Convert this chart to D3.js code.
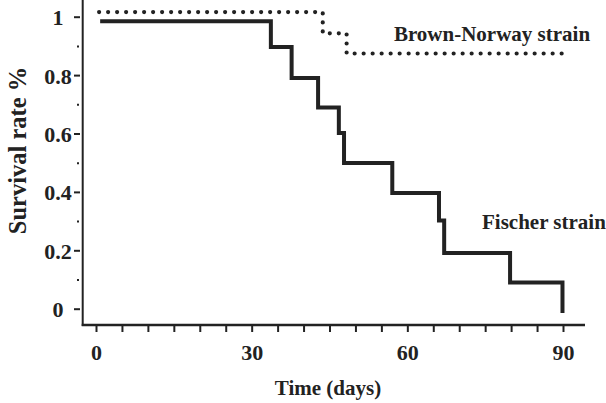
<!DOCTYPE html>
<html>
<head>
<meta charset="utf-8">
<script src="https://cdn.jsdelivr.net/npm/d3@7"></script>
<style>
  body { margin: 0; background: #fff; }
  svg { display: block; }
  text { font-family: "Liberation Serif", "Times New Roman", serif; font-weight: bold; fill: #222; }
</style>
</head>
<body>
<svg id="chart" width="606" height="403"></svg>
<script>
// Fischer strain (solid step line)
const fischerDays = [0.8, 33.7, 37.7, 42.8, 46.8, 47.8, 57.1, 66.1, 67.1, 79.8, 89.9];
const fischerSurv = [0.984, 0.896, 0.79, 0.689, 0.602, 0.499, 0.396, 0.302, 0.191, 0.09, -0.015];

// Brown-Norway strain (dotted step line)
const bnDays = [0.6, 43.7, 48.3, 91];
const bnSurv = [1.016, 0.943, 0.874, 0.874];

const yMajor = [0, 0.2, 0.4, 0.6, 0.8, 1];
const yMajorLabels = ["0", "0.2", "0.4", "0.6", "0.8", "1"];
const yMinor = [0.1, 0.3, 0.5, 0.7, 0.9];
const xTicks = [0, 5, 10, 15, 20, 25, 30, 35, 40, 45, 50, 55, 60, 65, 70, 75, 80, 85, 90];
const xLabels = [0, 30, 60, 90];

const svg = d3.select('#chart');
const ink = '#222';

const x = d3.scaleLinear().domain([0, 90]).range([96, 563]);
const y = d3.scaleLinear().domain([0, 1]).range([308.7, 16.7]);

const axisX0 = 82.7;   // y-axis line position
const axisY0 = 325;    // x-axis line position

// axis lines
svg.append('line')
  .attr('x1', axisX0).attr('x2', axisX0)
  .attr('y1', 0).attr('y2', axisY0 + 1)
  .attr('stroke', ink).attr('stroke-width', 2);
svg.append('line')
  .attr('x1', axisX0 - 1).attr('x2', 585)
  .attr('y1', axisY0).attr('y2', axisY0)
  .attr('stroke', ink).attr('stroke-width', 2.5);

// y ticks (major, with labels)
const yAxisMajor = svg.append('g')
  .attr('transform', 'translate(80,0)')
  .call(d3.axisLeft(y).tickValues(yMajor).tickSize(6).tickPadding(0)
    .tickFormat((d, i) => yMajorLabels[i]));
yAxisMajor.select('.domain').remove();
yAxisMajor.selectAll('line').attr('stroke', ink).attr('stroke-width', 2);
yAxisMajor.selectAll('text')
  .attr('x', -22).attr('text-anchor', 'middle')
  .attr('dy', '0.36em')
  .style('font-size', '22px');

// y minor ticks
const yAxisMinor = svg.append('g')
  .attr('transform', 'translate(79,0)')
  .call(d3.axisLeft(y).tickValues(yMinor).tickSize(2).tickFormat(''));
yAxisMinor.select('.domain').remove();
yAxisMinor.selectAll('line').attr('stroke', ink).attr('stroke-width', 2);

// x ticks
const xAxis = svg.append('g')
  .attr('transform', `translate(0,${axisY0})`)
  .call(d3.axisBottom(x).tickValues(xTicks).tickSize(7)
    .tickFormat(d => xLabels.includes(d) ? d : ''));
xAxis.select('.domain').remove();
xAxis.selectAll('line').attr('stroke', ink).attr('stroke-width', 2);
xAxis.selectAll('text')
  .attr('y', 35).attr('dy', 0)
  .style('font-size', '22px');

// step lines
const line = d3.line()
  .x(d => x(d[0]))
  .y(d => y(d[1]))
  .curve(d3.curveStepAfter);

svg.append('path')
  .datum(fischerDays.map((d, i) => [d, fischerSurv[i]]))
  .attr('d', line)
  .attr('fill', 'none')
  .attr('stroke', ink)
  .attr('stroke-width', 4);

svg.append('path')
  .datum(bnDays.map((d, i) => [d, bnSurv[i]]))
  .attr('d', line)
  .attr('fill', 'none')
  .attr('stroke', ink)
  .attr('stroke-width', 4.2)
  .attr('stroke-linecap', 'round')
  .attr('stroke-dasharray', '0 9');

// series labels
svg.append('text')
  .attr('x', 492).attr('y', 41)
  .attr('text-anchor', 'middle')
  .style('font-size', '21px')
  .text('Brown-Norway strain');

svg.append('text')
  .attr('x', 482).attr('y', 229)
  .style('font-size', '21px')
  .text('Fischer strain');

// axis titles
svg.append('text')
  .attr('x', 328).attr('y', 395)
  .attr('text-anchor', 'middle')
  .style('font-size', '21px')
  .text('Time (days)');

svg.append('text')
  .attr('transform', 'translate(26,150.5) rotate(-90)')
  .attr('text-anchor', 'middle')
  .style('font-size', '24.5px')
  .text('Survival rate %');
</script>
</body>
</html>
